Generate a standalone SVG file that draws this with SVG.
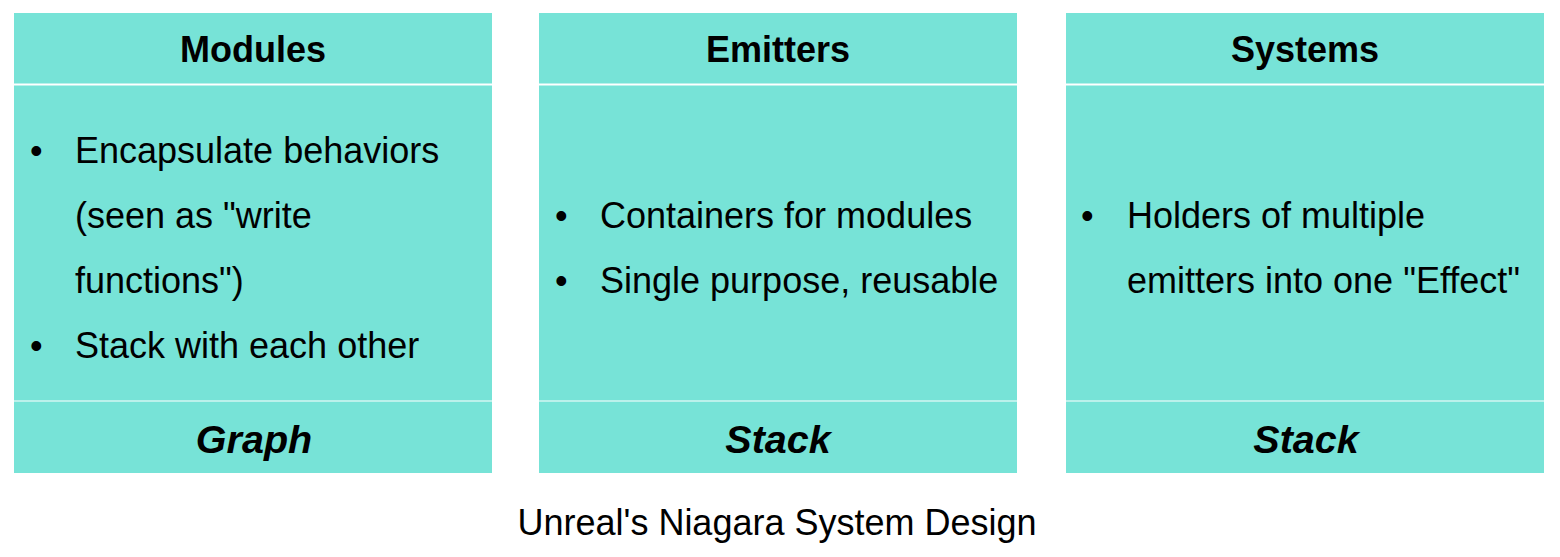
<svg xmlns="http://www.w3.org/2000/svg" width="1560" height="557" viewBox="0 0 1560 557">
<style>
.panel{fill:#77E3D7}
.sep{stroke:#FFFFFF;stroke-width:2}
.sep2{stroke:#FFFFFF;stroke-width:1.2}
.hd{font-family:"Liberation Sans",Arial,sans-serif;font-weight:bold;font-size:36px;fill:#000;text-anchor:middle}
.bd{font-family:"Liberation Sans",Arial,sans-serif;font-size:36px;fill:#000}
.ft{font-family:"Liberation Sans",Arial,sans-serif;font-weight:bold;font-style:italic;font-size:39.5px;fill:#000;text-anchor:middle}
.cap{font-family:"Liberation Sans",Arial,sans-serif;font-size:36px;fill:#000;text-anchor:middle}
</style>
<rect width="1560" height="557" fill="#FFFFFF"/>
<g id="modules">
<rect class="panel" x="14" y="13" width="478" height="460"/>
<line class="sep" x1="14" y1="84.5" x2="492" y2="84.5"/>
<line class="sep2" x1="14" y1="401" x2="492" y2="401"/>
<text class="hd" x="253" y="62">Modules</text>
<text class="bd" x="30" y="163">•</text>
<text class="bd" x="75" y="163">Encapsulate behaviors</text>
<text class="bd" x="75" y="228">(seen as "write</text>
<text class="bd" x="75" y="293">functions")</text>
<text class="bd" x="30" y="358">•</text>
<text class="bd" x="75" y="358">Stack with each other</text>
<text class="ft" x="254" y="453">Graph</text>
</g>
<g id="emitters">
<rect class="panel" x="539" y="13" width="478" height="460"/>
<line class="sep" x1="539" y1="84.5" x2="1017" y2="84.5"/>
<line class="sep2" x1="539" y1="401" x2="1017" y2="401"/>
<text class="hd" x="778" y="62">Emitters</text>
<text class="bd" x="555" y="228">•</text>
<text class="bd" x="600" y="228">Containers for modules</text>
<text class="bd" x="555" y="293">•</text>
<text class="bd" x="600" y="293">Single purpose, reusable</text>
<text class="ft" x="778" y="453">Stack</text>
</g>
<g id="systems">
<rect class="panel" x="1066" y="13" width="478" height="460"/>
<line class="sep" x1="1066" y1="84.5" x2="1544" y2="84.5"/>
<line class="sep2" x1="1066" y1="401" x2="1544" y2="401"/>
<text class="hd" x="1305" y="62">Systems</text>
<text class="bd" x="1081" y="228">•</text>
<text class="bd" x="1127" y="228">Holders of multiple</text>
<text class="bd" x="1127" y="293">emitters into one "Effect"</text>
<text class="ft" x="1306" y="453">Stack</text>
</g>
<g id="caption">
<text class="cap" x="777" y="535">Unreal's Niagara System Design</text>
</g>
</svg>
